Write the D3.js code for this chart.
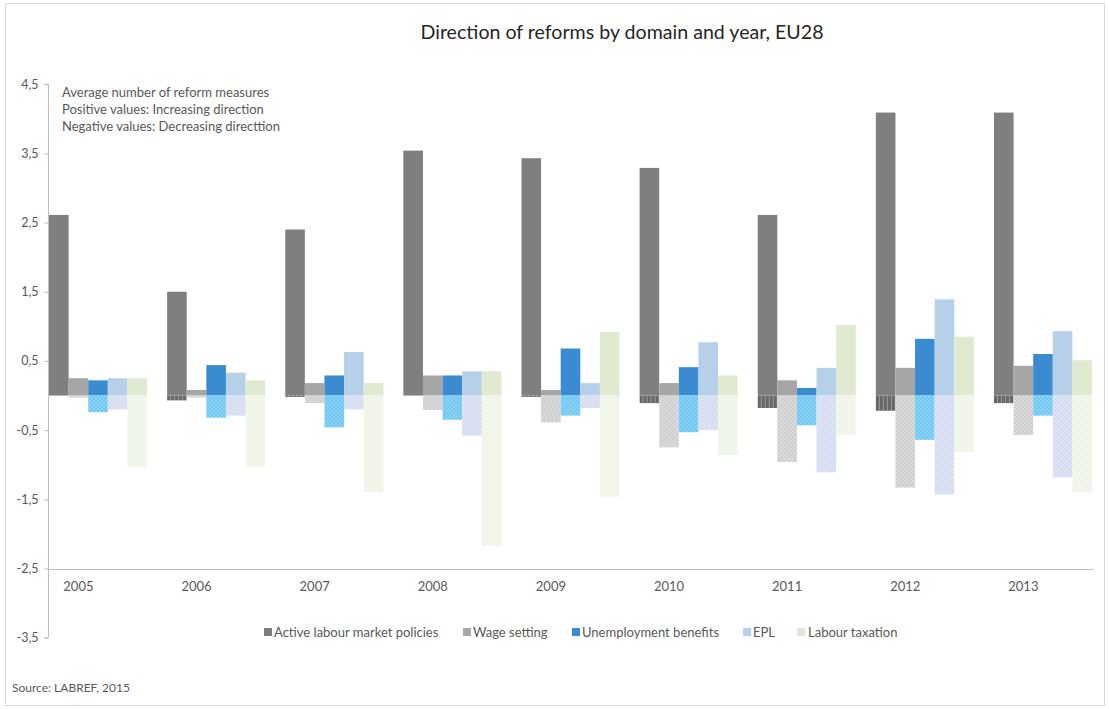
<!DOCTYPE html>
<html>
<head>
<meta charset="utf-8">
<script src="https://cdn.jsdelivr.net/npm/d3@7"></script>
<style>
  html, body { margin: 0; padding: 0; background: #ffffff; }
  svg { display: block; font-family: Lato, "Open Sans", sans-serif; }
</style>
</head>
<body>
<svg id="chart" width="1109" height="709"></svg>
<script>
// ---------- DATA ----------
const years = ["2005","2006","2007","2008","2009","2010","2011","2012","2013"];
const seriesNames = ["Active labour market policies","Wage setting","Unemployment benefits","EPL","Labour taxation"];

// Increasing direction (positive values)
const almpPos  = [2.61, 1.50, 2.40, 3.54, 3.43, 3.29, 2.61, 4.09, 4.09];
const wagePos  = [0.25, 0.08, 0.18, 0.29, 0.08, 0.18, 0.22, 0.40, 0.43];
const ubPos    = [0.22, 0.44, 0.29, 0.29, 0.68, 0.41, 0.11, 0.82, 0.60];
const eplPos   = [0.25, 0.33, 0.63, 0.35, 0.18, 0.77, 0.40, 1.39, 0.93];
const taxPos   = [0.25, 0.22, 0.18, 0.35, 0.92, 0.29, 1.02, 0.85, 0.51];

// Decreasing direction (negative values)
const almpNeg  = [0.00, -0.07, -0.02, 0.00, -0.02, -0.11, -0.18, -0.22, -0.11];
const wageNeg  = [-0.03, -0.03, -0.11, -0.21, -0.39, -0.75, -0.96, -1.33, -0.57];
const ubNeg    = [-0.24, -0.32, -0.46, -0.35, -0.29, -0.53, -0.43, -0.64, -0.29];
const eplNeg   = [-0.20, -0.29, -0.20, -0.58, -0.18, -0.50, -1.11, -1.43, -1.18];
const taxNeg   = [-1.03, -1.03, -1.40, -2.17, -1.46, -0.86, -0.57, -0.82, -1.40];

const yTickValues = [4.5, 3.5, 2.5, 1.5, 0.5, -0.5, -1.5, -2.5, -3.5];
const yTickLabels = ["4,5","3,5","2,5","1,5","0,5","-0,5","-1,5","-2,5","-3,5"];

const titleText = "Direction of reforms by domain and year, EU28";
const noteLines = ["Average number of reform measures","Positive values: Increasing direction","Negative values: Decreasing directtion"];
const sourceText = "Source: LABREF, 2015";

// ---------- STYLE ----------
const posColors = ["#7f7f7f","#a6a6a6","#3b8bd0","#b7d0ea","#dfead0"];
const negBase   = ["#686868","#cdcdcd","#6cc6f3","#d3dbf1","#edf3e5"];
const negAlt    = ["#9a9a9a","#dcdcdc","#8fd3f6","#dfe5f5","#f4f8ee"];
const legendColors = ["#7f7f7f","#a6a6a6","#3b8bd0","#b7d0ea","#dfe6d6"];

const posData = [almpPos, wagePos, ubPos, eplPos, taxPos];
const negData = [almpNeg, wageNeg, ubNeg, eplNeg, taxNeg];

const svg = d3.select("#chart");

// frame
svg.append("rect").attr("x",5.5).attr("y",3.5).attr("width",1099).attr("height",702)
  .attr("fill","#ffffff").attr("stroke","#d9d9d9").attr("stroke-width",1);

// patterns for negative bars
const defs = svg.append("defs");
negBase.forEach((c,i) => {
  const p = defs.append("pattern").attr("id","neg"+i).attr("patternUnits","userSpaceOnUse")
    .attr("width",4).attr("height",4);
  p.append("rect").attr("width",4).attr("height",4).attr("fill",c);
  if (i === 0) {
    p.append("rect").attr("x",3).attr("y",0).attr("width",1).attr("height",4).attr("fill",negAlt[i]);
  } else {
    p.append("rect").attr("x",0).attr("y",0).attr("width",2).attr("height",2).attr("fill",negAlt[i]);
    p.append("rect").attr("x",2).attr("y",2).attr("width",2).attr("height",2).attr("fill",negAlt[i]);
  }
});

// scales
const y = d3.scaleLinear().domain([-3.5, 4.5]).range([637.7, 84.2]);
const x0 = d3.scaleBand().domain(years).range([49, 1092]).paddingInner(0.17).paddingOuter(0);
const x1 = d3.scaleBand().domain(d3.range(seriesNames.length)).range([0, x0.bandwidth()]).padding(0);

// y axis
const yAxis = d3.axisLeft(y).tickValues(yTickValues).tickSize(4)
  .tickFormat((d,i) => yTickLabels[i]);
const gy = svg.append("g").attr("transform","translate(48.5,0)").call(yAxis);
gy.select(".domain").attr("stroke","#bfbfbf").attr("d", `M-4,${y(4.5)}H0V${y(-3.5)}H-4`);
gy.selectAll(".tick line").attr("stroke","#bfbfbf");
gy.selectAll(".tick text").attr("fill","#595959").attr("font-size","12.5px").attr("x",-10)
  .attr("font-family","Lato, sans-serif");

// bars
const groups = svg.append("g").selectAll("g").data(years).join("g")
  .attr("transform", d => `translate(${x0(d)},0)`);

groups.each(function(yr, yi) {
  const g = d3.select(this);
  seriesNames.forEach((s, si) => {
    const pv = posData[si][yi];
    const nv = negData[si][yi];
    if (pv > 0) {
      g.append("rect").attr("x", x1(si)).attr("width", x1.bandwidth())
        .attr("y", y(pv)).attr("height", y(0) - y(pv)).attr("fill", posColors[si]);
    }
    if (nv < 0) {
      g.append("rect").attr("x", x1(si)).attr("width", x1.bandwidth())
        .attr("y", y(0)).attr("height", y(nv) - y(0)).attr("fill", `url(#neg${si})`);
    }
  });
});

// horizontal category axis line at -2.5
svg.append("line").attr("x1",48).attr("x2",1093).attr("y1",Math.round(y(-2.5))+0.5).attr("y2",Math.round(y(-2.5))+0.5)
  .attr("stroke","#bfbfbf").attr("stroke-width",1);

// year labels
svg.append("g").selectAll("text").data(years).join("text")
  .attr("x", d => x0(d) + x0.bandwidth()*0.3)
  .attr("y", y(-2.5) + 22)
  .attr("text-anchor","middle").attr("fill","#595959").attr("font-size","13px")
  .text(d => d);

// title
svg.append("text").attr("x",622).attr("y",39).attr("text-anchor","middle")
  .attr("fill","#262626").attr("font-size","19.6px").text(titleText);

// note
svg.append("g").selectAll("text").data(noteLines).join("text")
  .attr("x",62).attr("y",(d,i)=>97 + i*17).attr("fill","#595959").attr("font-size","13px")
  .text(d=>d);

// legend
const legendX = [264, 463, 572, 743, 797];
const lg = svg.append("g").selectAll("g").data(seriesNames).join("g")
  .attr("transform",(d,i)=>`translate(${legendX[i]},632)`);
lg.append("rect").attr("x",0).attr("y",-4).attr("width",8).attr("height",8)
  .attr("fill",(d,i)=>legendColors[i]);
lg.append("text").attr("x",(d,i)=> i===4 ? 11 : 10).attr("y",4.5).attr("fill","#595959").attr("font-size","13px")
  .text(d=>d);

// source
svg.append("text").attr("x",12).attr("y",692).attr("fill","#595959").attr("font-size","12px").text(sourceText);
</script>
</body>
</html>
